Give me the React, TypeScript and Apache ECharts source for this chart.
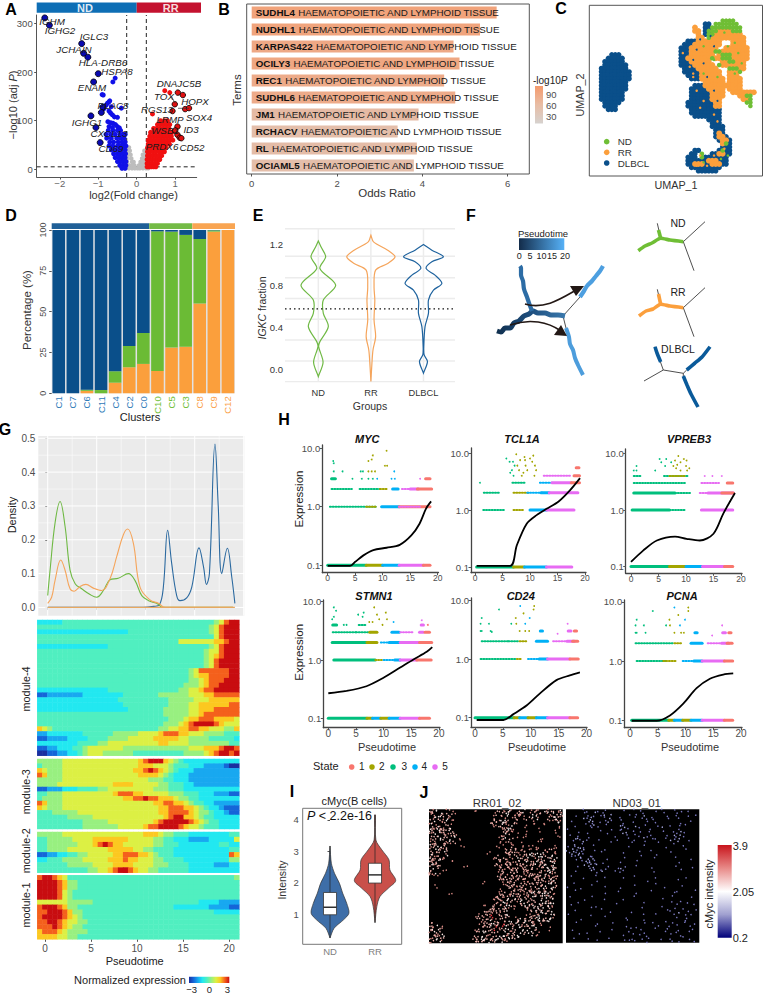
import React, { useEffect, useRef } from "react";
import * as echarts from "echarts";

const FF = "'Liberation Sans', Arial, sans-serif";
const GREY = "#4d4d4d";
const BLUE = "#0a4f8a";
const GREEN = "#6bbb35";
const ORANGE = "#fb9f3c";

// ---- A volcano
const volcGray: [number, number[]][] = [
  [45, [-0.26, -0.2]], [38, [-0.25, -0.18, 0.2, 0.24]], [30, [-0.24, -0.16, 0.16, 0.22]],
  [22, [-0.24, -0.14, 0.14, 0.2, 0.24]], [15, [-0.25, -0.12, -0.08, 0.1, 0.16, 0.22]],
  [8, [-0.3, -0.2, -0.12, -0.06, 0.06, 0.12, 0.2, 0.26]],
  [2, [-0.4, -0.3, -0.2, -0.12, -0.05, 0.02, 0.08, 0.16, 0.24, 0.3]],
];
const volcBlueTop: number[][] = [
  [-0.56, 188], [-0.62, 180], [-0.9, 154], [-0.87, 153], [-0.7, 141], [-0.72, 139], [-0.76, 136], [-0.8, 132],
  [-0.66, 129], [-0.4, 126], [-0.85, 125], [-0.72, 120], [-0.68, 116], [-0.63, 112], [-0.58, 108], [-0.5, 107],
  [-0.75, 98], [-0.68, 96], [-0.62, 95], [-0.55, 92], [-0.5, 88], [-0.45, 85], [-0.72, 88], [-0.63, 86],
];
const volcBlueRows: [number, number[]][] = [
  [80, [-0.74, -0.62, -0.5, -0.42]], [72, [-0.8, -0.68, -0.56, -0.44, -0.36, -0.3]],
  [64, [-0.78, -0.66, -0.52, -0.42, -0.33]], [56, [-0.7, -0.6, -0.48, -0.38, -0.3]],
  [48, [-0.72, -0.62, -0.5, -0.42, -0.34, -0.28]], [40, [-0.66, -0.56, -0.46, -0.38, -0.3]],
  [32, [-0.6, -0.5, -0.44, -0.36, -0.29]], [24, [-0.56, -0.46, -0.38, -0.3]],
  [16, [-0.5, -0.42, -0.34, -0.28]], [8, [-0.44, -0.36, -0.28]], [2, [-0.38, -0.3]],
];
const volcRedRows: [number, number[]][] = [
  [100, [0.62, 0.72, 0.8]], [92, [0.54, 0.62, 0.7, 0.78, 0.86]], [84, [0.44, 0.52, 0.6, 0.68, 0.76, 0.84]],
  [76, [0.36, 0.44, 0.52, 0.6, 0.68, 0.76, 0.84, 0.92]], [68, [0.34, 0.42, 0.5, 0.58, 0.66, 0.74, 0.82, 0.9]],
  [60, [0.3, 0.38, 0.46, 0.54, 0.62, 0.7, 0.78, 0.86, 0.94]], [52, [0.3, 0.38, 0.46, 0.54, 0.62, 0.7, 0.78, 0.85]],
  [44, [0.28, 0.36, 0.44, 0.52, 0.6, 0.68, 0.76]], [36, [0.28, 0.35, 0.43, 0.5, 0.58, 0.65, 0.72]],
  [28, [0.28, 0.35, 0.42, 0.5, 0.58, 0.65]], [20, [0.27, 0.33, 0.4, 0.47, 0.54, 0.6]],
  [12, [0.27, 0.33, 0.4, 0.47, 0.54]], [5, [0.27, 0.32, 0.38, 0.44, 0.5]],
];
const volcRedTop = [[0.73, 162], [0.86, 158], [0.41, 114]];
const volcBlueLabelled = [
  [-2.39, 312], [-2.27, 297], [-1.43, 259], [-1.38, 239], [-1.27, 231], [-1.0, 197], [-1.12, 180],
  [-0.88, 128], [-0.92, 117], [-1.19, 110], [-1.06, 86], [-0.95, 55],
];
const volcRedLabelled = [
  [1.07, 158], [1.2, 153], [0.99, 134], [0.93, 120], [1.26, 124], [1.36, 126],
  [1.06, 88], [1.0, 80], [1.06, 71], [1.12, 65], [1.16, 64],
];
const volcLabels: [string, number, number][] = [
  ["IGHM", 52, 21], ["IGHG2", 60, 30.7], ["IGLC3", 94, 36], ["JCHAIN", 74, 49], ["HLA-DRB6", 103, 62],
  ["HSPA8", 117, 71], ["ENAM", 92, 87], ["PLAC8", 113, 105], ["IGHG1", 87, 122], ["CXCL13", 109, 133],
  ["CD69", 111, 148], ["DNAJC5B", 179, 83], ["TOX", 164, 96], ["HOPX", 195, 101], ["RGS13", 157, 109],
  ["SOX4", 199, 117], ["LRMP", 170, 119], ["WSB1", 165, 130], ["ID3", 191, 129], ["PRDX6", 162, 146], ["CD52", 192, 147],
];

// ---- B enrichment
const termNames = ["SUDHL4", "NUDHL1", "KARPAS422", "OCILY3", "REC1", "SUDHL6", "JM1", "RCHACV", "RL", "OCIAML5"];
const oddsRatio = [5.74, 5.35, 4.73, 4.87, 4.51, 4.77, 3.91, 3.42, 3.87, 3.8];
const log10P = [88, 86, 80, 82, 76, 76, 55, 50, 52, 50];
const termSuffix = "HAEMATOPOIETIC AND LYMPHOID TISSUE";

// ---- C UMAP: [row, firstCol, lastCol]
const umapD: number[][] = [
  [14, 6, 8], [15, 5, 9], [16, 4, 9], [17, 4, 10], [18, 3, 10], [19, 3, 11], [20, 3, 11], [21, 3, 11], [22, 3, 10], [23, 3, 10],
  [24, 3, 10], [25, 3, 9], [26, 3, 9], [27, 3, 9], [28, 4, 8], [29, 4, 7], [30, 5, 7],
  [5, 33, 34], [6, 33, 34], [7, 33, 34], [8, 33, 33], [10, 28, 30], [11, 27, 30], [12, 26, 29], [13, 26, 29], [14, 26, 28], [15, 26, 28],
  [16, 26, 29], [17, 26, 29], [18, 27, 30], [19, 27, 31], [20, 28, 31], [21, 29, 31], [23, 30, 33], [24, 29, 34], [25, 29, 34], [26, 29, 35],
  [27, 29, 35], [28, 28, 36], [29, 28, 36], [30, 29, 37], [31, 29, 37], [32, 30, 37], [33, 34, 37], [34, 35, 37], [35, 35, 38], [36, 36, 38],
  [37, 36, 38], [38, 36, 39], [39, 37, 40], [40, 38, 40], [41, 38, 40], [42, 30, 31], [42, 37, 40], [43, 29, 30], [43, 35, 40], [44, 28, 30],
  [44, 33, 39], [45, 28, 39], [46, 28, 39], [47, 29, 37], [48, 31, 36],
];
const umapR: number[][] = [
  [6, 30, 30], [7, 30, 31], [7, 37, 40], [8, 31, 31], [8, 36, 43], [9, 31, 32], [9, 35, 44], [10, 31, 37], [10, 41, 44], [11, 30, 37], [11, 41, 44],
  [12, 29, 36], [12, 39, 45], [13, 29, 35], [13, 38, 45], [14, 29, 35], [14, 37, 45], [15, 28, 34], [15, 36, 37], [15, 41, 45], [16, 29, 34], [16, 38, 44],
  [17, 30, 35], [17, 38, 44], [18, 31, 36], [18, 41, 44], [19, 32, 37], [19, 40, 42], [20, 32, 37], [20, 40, 42], [21, 32, 38], [21, 40, 43], [22, 33, 38],
  [22, 40, 43], [23, 33, 38], [23, 39, 43], [24, 34, 38], [24, 40, 43], [25, 35, 38], [25, 41, 47], [26, 35, 38], [26, 43, 45], [27, 35, 37], [27, 44, 45],
  [28, 36, 37], [29, 36, 37], [37, 37, 37], [38, 37, 38], [39, 38, 39], [40, 38, 38], [43, 37, 38], [45, 34, 36], [46, 30, 32], [46, 35, 37],
];
const umapN: number[][] = [
  [4, 38, 41], [5, 36, 42], [6, 35, 43], [7, 34, 36], [7, 41, 43], [8, 34, 35], [9, 34, 34], [13, 36, 37], [14, 38, 40], [15, 35, 35], [15, 38, 40],
  [16, 40, 41], [17, 37, 37], [18, 40, 42], [19, 43, 43], [26, 45, 46], [27, 46, 46], [28, 45, 46], [29, 46, 46], [40, 39, 39], [42, 38, 38], [43, 32, 32], [44, 32, 32],
];
const umapOrangeDots = [[27, 14], [29, 18], [30, 20], [31, 25], [33, 28], [32, 30], [36, 32], [37, 34], [32, 44], [31, 47], [34, 47], [36, 44], [39, 42], [30, 21]];
const umapDarkDots = [[31, 13], [33, 17], [36, 12], [34, 21], [36, 25], [35, 9], [37, 28], [30, 16], [32, 10]];
const umapGreenDots = [[33, 12], [40, 12], [42, 11], [43, 14], [37, 21], [39, 8], [44, 17], [42, 20], [33, 20], [36, 16], [40, 44], [38, 45], [33, 46]];

// ---- D composition
const clusters = ["C1", "C7", "C6", "C11", "C4", "C2", "C0", "C10", "C5", "C3", "C8", "C9", "C12"];
const clusterGroup = ["b", "b", "b", "b", "b", "b", "b", "g", "g", "g", "o", "o", "o"];
const pctOrange = [0, 0, 1.5, 0, 6.5, 16, 18, 13.7, 28, 28.5, 55, 99, 100];
const pctGreen = [0, 0, 0.7, 2, 7, 13, 19, 85.5, 71, 68.5, 39.5, 0.8, 0];
const pctBlue = [100, 100, 97.8, 98, 86.5, 71, 63, 0.8, 1, 3, 5.5, 0.2, 0];

// ---- E violins: [value, half-width]
const igkcND = [[1.233, 0], [1.176, 0.05], [1.08, 0.14], [0.968, 0.03], [0.808, 0.33], [0.665, 0.095], [0.537, 0.095], [0.409, 0.19], [0.265, 0.03], [0.217, 0.006], [0.067, 0.09], [-0.07, 0]];
const igkcRR = [[1.288, 0], [1.224, 0.05], [1.144, 0.32], [1.08, 0.46], [1.016, 0.32], [0.952, 0.09], [0.792, 0.06], [0.665, 0.075], [0.473, 0.06], [0.313, 0.09], [0.185, 0.04], [0.058, 0.02], [-0.118, 0]];
const igkcDL = [[1.198, 0], [1.144, 0.16], [1.08, 0.38], [1.032, 0.16], [0.968, 0.05], [0.904, 0.22], [0.824, 0.35], [0.76, 0.19], [0.665, 0.095], [0.537, 0.095], [0.409, 0.03], [0.217, 0.006], [0.137, 0.013], [0.073, 0.076], [-0.038, 0]];
const igkcGroups = ["ND", "RR", "DLBCL"];
const igkcGrid = [1.35, 1.086, 0.88, 0.68, 0.48, 0.28, 0.08, -0.12];
const igkcThreshold = 0.58;

// ---- F trajectories
const trajRoot = [[497, 331], [501, 332], [505, 328], [510, 328], [514, 323], [519, 321], [524, 316], [529, 314], [533, 311], [538, 313], [545, 313], [551, 315], [558, 315], [565, 316]];
const trajUp = [[532, 311], [529, 303], [527, 297], [524, 289], [523, 281], [521, 275], [521, 268], [520, 266]];
const trajRight = [[580, 297], [584, 291], [587, 286], [592, 281], [596, 276], [600, 271], [603, 266]];
const trajDown = [[566, 328], [569, 337], [570, 344], [573, 350], [575, 358], [578, 365], [583, 375]];
const trajThin = [[[563, 316], [580, 297]], [[563, 316], [566, 328]]];
const ndThin = [[[657.3, 223.3], [660.7, 238.3], [683.3, 241.7], [705, 221.7]], [[683.3, 241.7], [694, 270.7]]];
const ndThick = [[[638.3, 250.7], [645, 246], [652, 243], [660.7, 238.3], [670, 240], [683.3, 241.7]], [[660.7, 238.3], [658.5, 230]]];
const rrThin = [[[657.3, 289.3], [660.7, 304.3], [683.3, 307.7], [705, 287.7]], [[683.3, 307.7], [694, 336.7]]];
const rrThick = [[[639, 316], [646, 311], [653, 309], [660.7, 304.3], [670, 306], [683.3, 307.7]], [[660.7, 304.3], [658.5, 294]]];
const dlThin = [[[644, 381], [663.3, 370], [683.3, 373.3], [686.7, 370]], [[655, 346.7], [663.3, 370]], [[683.3, 373.3], [683.3, 376]]];
const dlThick = [[[655, 346.7], [657, 353], [660.7, 362]], [[686.7, 370], [695, 363], [702, 357], [710, 346.7]], [[683.3, 376], [687, 385], [691, 394], [698, 407]]];

// ---- G density
const densGreen = [[0, 0.035], [0.24, 0.11], [0.75, 0.25], [1.26, 0.313], [1.77, 0.24], [2.28, 0.11], [2.8, 0.07], [3.47, 0.055], [4.32, 0.038], [5, 0.03], [5.68, 0.05], [6.36, 0.082], [7.2, 0.086], [8.23, 0.1], [8.9, 0.08], [9.6, 0.035], [10.3, 0.02], [11.1, 0.012], [11.8, 0], [18.9, 0]];
const densOrange = [[0, 0.012], [0.4, 0.03], [0.75, 0.08], [1.33, 0.14], [1.77, 0.11], [2.28, 0.055], [2.7, 0.048], [3.3, 0.062], [3.9, 0.068], [4.66, 0.057], [5.5, 0.05], [6.36, 0.085], [7.04, 0.15], [7.72, 0.215], [8.16, 0.232], [8.74, 0.19], [9.42, 0.06], [10.44, 0.022], [11.3, 0.012], [12, 0], [18.9, 0]];
const densBlue = [[0, 0], [9.76, 0], [10.8, 0.003], [11.4, 0.008], [11.8, 0.06], [12.24, 0.228], [12.65, 0.13], [13.16, 0.035], [13.5, 0.02], [14.18, 0.028], [14.7, 0.06], [15.44, 0.176], [15.9, 0.12], [16.2, 0.068], [16.5, 0.1], [17.07, 0.483], [17.4, 0.3], [17.76, 0.1], [18.33, 0.175], [18.78, 0.09], [19.1, 0.012]];
const densGridY = [0.05, 0.1, 0.15, 0.2, 0.25, 0.3, 0.35, 0.4, 0.45, 0.5];
const densGridX = [0, 2.5, 5, 7.5, 10, 12.5, 15, 17.5, 20];

// ---- G heat map: one digit per cell, 0 = -3 ... 9 = +3
const mod4 = [
  "3333344444444444444444444444444444456899", "4444444444444444444444444444444444568999", "3333333333333333334444444444444444568999",
  "4444444444444444444444444444444444468999", "4444444444444444444444444444666666677899", "3333333333333344444444444444444444568999",
  "4444444444444444444444444444444445668999", "4444444444444444444444444444444445678999", "4444444444444444444444444444444445689999",
  "4444444444444444444444444444444445689999", "4444444444444444444444444444445688888899", "4444444444444444444444444444445677888899",
  "4444444444444444444444444444445567888999", "4444444444444444444444444444455567889999", "3333333333333344444444444444556678899999",
  "1122222223333333344444445555556667788888", "3333333333333333444444444455555666777777", "3333333333333333344444444455556677777788",
  "3333333333333333334444444555556677788888", "4444444444444444444444444555556678888888", "4444444444444444444444444455567788877776",
  "4444444444444444444444444555678999987666", "7654444444444444444444445566778877666557", "2233333334444445555566667888776665555444",
  "1122223333444455556666677777665555444443", "3333333344445566666666667766665555555544", "1122333445666666655555555555556667778998",
  "0011223345666555555444444444455556789989",
];
const mod3 = [
  "5555566666666666666678999765433333333333", "4555566666666666666677766654443332222100", "7655566666666666666778987654333222222222",
  "8755566666666666666677776543332222222222", "5555566666666666666666555443332222222222", "5555666666666667777666665544433222222222",
  "1122233344445566666666655544433333333333", "4455566666666667888776666655544433322211", "4555566666666666677889887776554433333333",
  "8755566666666666666666677887765443322222", "7655566666666666666666667788877654332111", "4445555566666666666666667788887655433211",
  "4444445555566666666666666789977654433333", "4444444445555566666666678999998765443333", "4444444445555555666667889999876654443333",
];
const mod2 = [
  "5555566666666666666667776554443333333344", "4455555666677777776666655443332222333336", "4455555566678987766666655444333333334433",
  "4455556666666677777665544443333333333344", "1122334455666667788877654443333333333387", "3344455556666677787766655444433333333355",
  "4444445555566667777666655544443333322233", "4444444444556678998766554444443333333333",
];
const mod1 = [
  "8998764444444444444444444444444444444445", "9999875544444444444444444444444444444444", "9999875544444444444444444444444444444444",
  "9999865444444444444444444444444444444444", "9999865444444444444444444444444444444444", "6666665555544444444444444444444433332222",
  "8999875544444444444444444443333333222211", "8899987554444444444444444444444444433333", "8999987654444444444444444444444444444444",
  "8899876655444444444444444444444444444444", "8889876554444444444444444444444444444444", "7888765555444444444444444444444444444444",
  "7777665544444444444444444444444444444444",
];
const jet = ["#1a2fa0", "#1565d8", "#18a8f0", "#22e8f0", "#50efc0", "#98f080", "#dcf044", "#fcc820", "#f4601c", "#c80c10"];
const pseudoTicks = [0, 5, 10, 15, 20];

// ---- H pseudotime genes; bands: [expression, from, to, state, dense]
const stateColors = ["", "#f8766d", "#a3a500", "#00bf7d", "#00b0f6", "#e76bf3"];
const mycBands = [[0.1, 0, 7, 3, 1], [0.1, 7, 10, 2, 1], [0.1, 10, 13, 4, 1], [0.1, 13, 17.4, 5, 1], [0.1, 17.4, 18.6, 1, 1], [1, 0.4, 9, 3, 0], [1, 7, 9, 2, 0], [1, 9.8, 13, 4, 1], [1, 13, 18.6, 1, 1], [1, 13, 17, 5, 0], [2, 0.7, 4.4, 3, 0], [2, 5.8, 9.5, 3, 0], [2, 9.5, 10.8, 2, 0], [2, 11.8, 12.8, 4, 1], [2, 13.5, 15, 5, 0], [2, 15, 16.5, 5, 1], [2, 16.3, 18.9, 1, 1], [3, 0.7, 1.4, 3, 1], [3, 17.8, 18.6, 1, 1]];
const mycDots = [[1, 6, 3], [1.1, 5.5, 3], [1.1, 4, 3], [2.7, 4, 3], [6, 4, 3], [6.4, 4, 3], [7.4, 4, 2], [8, 4, 2], [8.6, 4, 2], [7.4, 6, 2], [8, 6.4, 2], [8.2, 7.5, 2], [10.7, 9, 2], [10.4, 5, 2], [10.8, 5, 2], [4.5, 3, 3], [6.2, 3, 3], [7.4, 3, 3], [8.2, 3, 3], [9, 3, 4], [11.6, 3, 4], [12.2, 3, 4], [12.1, 4, 4], [16.8, 3, 5]];
const tclBands = [[0.1, 0.3, 7, 3, 1], [0.1, 7, 9, 2, 1], [0.1, 9, 13, 4, 1], [0.1, 13, 17.6, 5, 1], [1, 1.5, 5.5, 3, 0], [1, 7, 9, 2, 0], [1, 10, 13, 4, 1], [1, 13, 18, 5, 1], [2, 1.6, 4.5, 3, 0], [2, 7, 10, 2, 0], [2, 9.5, 12.5, 4, 0], [2, 12, 13.5, 4, 1], [2, 13.5, 18.7, 5, 1], [3, 6.8, 9, 3, 0], [3, 11.8, 14, 4, 0], [3, 14, 17.5, 5, 1], [3, 17.5, 19, 1, 1], [4, 12.5, 17.5, 5, 0], [4, 18, 19, 1, 1], [5.5, 18.4, 18.9, 1, 1]];
const tclDots = [[0.9, 3, 3], [5.7, 8, 3], [6.3, 7, 3], [6.9, 7, 3], [7.5, 9.5, 2], [7.7, 6, 2], [8, 5, 2], [8.5, 4, 2], [9, 8.5, 2], [9.2, 6, 2], [9.5, 5, 2], [10.4, 7, 2], [10.6, 9, 2], [10.9, 6, 2], [11.1, 5, 2], [10.8, 4, 2], [6.7, 5, 3], [7, 4, 3], [8.2, 7.5, 2], [9.1, 7.5, 2], [10, 8, 2], [7.2, 6, 3], [6.4, 4.5, 3], [8.8, 4.5, 2]];
const vprBands = [[0.1, 0, 7, 3, 1], [0.1, 7, 10, 2, 1], [0.1, 10, 13, 4, 1], [0.1, 13, 17, 5, 1], [0.1, 17, 18.5, 1, 1], [1, 0.2, 7, 3, 1], [1, 7, 10, 3, 0], [1, 12.8, 18.5, 5, 1], [2, 0.5, 8, 3, 1], [2, 8, 11, 3, 0], [2, 12.5, 14, 5, 0], [2, 14, 18.6, 5, 1], [2, 16.5, 18.6, 1, 1], [3, 0.5, 3, 3, 0], [3, 3, 10, 3, 0], [3, 12.8, 16, 5, 0], [3, 17.5, 18.5, 1, 1], [4, 0.5, 2, 3, 0], [4, 6, 10.5, 3, 0], [4, 7, 10, 2, 0]];
const vprDots = [[0.5, 5, 3], [1, 6, 3], [1, 5, 3], [4.4, 5, 3], [5.5, 7, 3], [5.2, 8, 3], [6.2, 6, 3], [6.4, 8, 3], [7.3, 7, 3], [7.7, 6, 2], [8, 7.5, 2], [8.2, 5.5, 2], [8.6, 9, 2], [9, 7, 2], [9, 5, 2], [9.6, 8, 2], [10, 6, 2], [10.2, 5, 2], [10.6, 5.5, 2], [10.1, 7.5, 2], [13.4, 4, 5], [14.8, 4, 5], [16.5, 4, 5], [8.4, 6.3, 2]];
const stmBands = [[0.1, 0, 7, 3, 1], [0.1, 7, 8, 2, 1], [0.1, 8, 9.5, 4, 1], [0.1, 9.5, 11, 2, 1], [0.1, 11, 13, 4, 1], [0.1, 13, 16.5, 5, 1], [0.1, 16.5, 18.3, 1, 1], [1, 1, 8.5, 3, 1], [1, 8.5, 10, 2, 0], [1, 10, 12, 4, 0], [1, 12, 13, 4, 1], [1, 13, 16, 5, 1], [1, 16, 18.6, 1, 1], [2, 0.7, 7, 3, 1], [2, 7, 8.8, 2, 1], [2, 9.5, 11, 4, 0], [2, 11, 13, 4, 1], [2, 13, 16.5, 5, 1], [2, 16.5, 18.7, 1, 1], [3, 0.8, 5, 3, 0], [3, 5, 8, 3, 0], [3, 7.5, 8.8, 2, 1], [3, 11.5, 12.8, 4, 1], [3, 13, 15.5, 5, 0], [3, 16.5, 17.2, 5, 1], [3, 17.5, 18.3, 1, 1], [4, 0.8, 1.5, 3, 1], [4, 5.5, 7, 3, 0], [4, 16.8, 17.2, 5, 1]];
const stmDots = [[0.7, 5, 3], [1, 5.5, 3], [1, 8, 3], [1.4, 7, 3], [2.8, 4, 3], [3.3, 4, 3], [5.4, 6, 3], [6.2, 5.5, 3], [6.4, 6.5, 3], [7.4, 4.5, 2], [8, 4.5, 2], [8.3, 8, 2], [8.8, 6, 2], [9.2, 5, 2], [9.8, 4, 2], [10.4, 6.5, 2], [10.6, 5, 2], [11.8, 4.5, 4], [16.9, 4.8, 5], [18, 4, 1]];
const cd24Bands = [[0.1, 0, 7, 3, 1], [0.1, 7, 8, 2, 1], [0.1, 8, 9.5, 4, 1], [0.1, 9.5, 11, 2, 1], [0.1, 11, 13, 4, 1], [0.1, 13, 17, 5, 1], [0.1, 17, 18.4, 1, 1], [1, 1, 7.5, 3, 0], [1, 7.5, 8.5, 2, 0], [1, 9.5, 11.5, 4, 0], [1, 11.5, 13, 4, 1], [1, 13, 17, 5, 1], [1, 17, 18.5, 1, 1], [2, 1.2, 6, 3, 0], [2, 6, 8, 3, 0], [2, 8, 9.5, 2, 0], [2, 11, 13, 4, 1], [2, 14, 16.5, 5, 0], [2, 16.5, 17.8, 5, 1], [2, 17.5, 18.4, 1, 1], [3, 11.7, 12.1, 4, 1], [3, 16.7, 17.2, 5, 1], [3, 17.8, 18.2, 1, 1]];
const cd24Dots = [[1.2, 5, 3], [1, 4, 3], [1, 3, 3], [1.2, 3, 3], [2.5, 4, 3], [2.8, 3, 3], [3, 2.9, 3], [4.3, 7, 3], [7.3, 5, 2], [7.4, 4, 2], [6.5, 4, 3], [8, 3, 2], [8.7, 6, 2], [9, 3, 2], [9.8, 5, 4], [9.7, 3, 2], [10.6, 8, 2], [10.5, 7, 2], [8.1, 8, 4], [9, 4, 4], [16.6, 4, 5], [14.8, 2.7, 5]];
const pcnaBands = [[0.1, 0.3, 7, 3, 1], [0.1, 7, 8, 2, 1], [0.1, 8, 9.5, 4, 1], [0.1, 9.5, 11, 2, 1], [0.1, 11, 13, 4, 1], [0.1, 13, 17, 5, 1], [0.1, 17, 18.5, 1, 1], [1, 1.2, 6.5, 3, 0], [1, 6, 8.5, 2, 0], [1, 9.5, 11.5, 4, 0], [1, 11.5, 13, 4, 1], [1, 13, 17, 5, 1], [1, 17, 18.5, 1, 1], [2, 1, 6, 3, 0], [2, 6, 8, 3, 0], [2, 8, 9.5, 2, 0], [2, 11, 13, 4, 1], [2, 14, 16.5, 5, 0], [2, 16.5, 17.8, 5, 1], [2, 17.5, 18.4, 1, 1], [3, 11.7, 12.1, 4, 1], [3, 16.7, 17.2, 5, 1], [3, 17.8, 18.2, 1, 1]];
const pcnaDots = [[1.2, 5, 3], [1, 4, 3], [1, 3, 3], [1.2, 3, 3], [2.5, 4, 3], [2.8, 3, 3], [4.1, 7, 3], [7.1, 5, 2], [7.2, 4, 2], [6.5, 4, 3], [8, 3, 2], [8.7, 6, 2], [9.2, 3, 2], [9.9, 5, 4], [9.7, 3, 2], [10.5, 8, 2], [10.5, 7, 2], [8, 8, 4], [9, 4, 4], [16.6, 4, 5], [14.8, 2.7, 5]];
// log10(expression) along pseudotime
const mycCurve = [[0, -1.01], [4.06, -1.01], [5, -0.94], [6.5, -0.83], [8.3, -0.74], [10.7, -0.7], [13.1, -0.65], [15.2, -0.49], [16.7, -0.29], [17.9, -0.03], [18.8, 0.09]];
const tclCurve = [[0.3, -0.98], [6.4, -0.98], [7.6, -0.62], [9.4, -0.24], [11.2, -0.09], [13, 0.02], [15.2, 0.15], [17.3, 0.35], [19.1, 0.56]];
const vprCurve = [[0, -0.92], [2.2, -0.72], [4.7, -0.54], [8, -0.47], [10.1, -0.51], [12.5, -0.54], [15, -0.42], [16.8, -0.06], [18.9, 0.3]];
const stmCurve = [[0, -0.57], [3.3, -0.53], [6.9, -0.45], [9.9, -0.31], [13, -0.13], [15.4, 0.01], [17.8, 0.14], [18.8, 0.22]];
const cd24Curve = [[0.3, -1.04], [5.1, -1.04], [6.9, -0.94], [9.3, -0.79], [11.6, -0.59], [14.6, -0.36], [17, -0.28], [18.8, -0.23]];
const pcnaCurve = [[0.3, -1.01], [4.8, -1.01], [7.2, -0.92], [9.6, -0.72], [12, -0.46], [14.4, -0.3], [16.8, -0.23], [18.6, -0.21]];

// ---- I cMyc violins
const cmycND = [[3.17, 0], [2.62, 0.03], [2.3, 0.1], [1.98, 0.21], [1.67, 0.28], [1.35, 0.37], [1.03, 0.42], [0.82, 0.3], [0.55, 0.09], [0.24, 0]];
const cmycRR = [[4.16, 0.01], [3.36, 0.02], [3.05, 0.15], [2.73, 0.31], [2.41, 0.33], [2.07, 0.46], [1.83, 0.3], [1.56, 0.11], [1.24, 0.04], [0.73, 0]];
const cmycBoxND = [0.98, 1.22, 1.69];
const cmycBoxRR = [1.99, 2.25, 2.62];

// ---- J tissue maps: one character per spot ('.' 'o' 'w' 'r' kinds of spot)
const tissueRR = [
  "o.w  .o .      .       o .w.  o w .o.  w.o .wo.", ".o  w  o              . o w  .o.  w .o  .w o. .", " .w o .               o . w .o. .o  w   o.w o",
  "o  o.w  .            .o w.o  .    .      .o.", ".w  .o               o. w . o      .  .    w", " o.w  o.             . o  .w    .          .",
  "w. o.o w                .o w.        .      ", ".o w.o  o                o. .   .         . ", "o w  o.o.               .w o  .             ",
  ".o.w o  w .             o.      .     .    .", " o  o.w o               .  o         .      ", "w.o  o.                  . .   .           ",
  ".o w.o     .           .   o.  .  . .     .", "o w .o                   .o  o .  . .  .o . ", " o.o w              .     o.o . o w w w.  .",
  "w. o .                 o  .o o .o w. w.o w  ", ".o w.                 .o o. .w o.w .o w w.w", "o.o    .               o. .o o. o o w.o  w.",
  " w.o                  o .o.o  o.o .o o.w w", "o o         .          .o o. o .o o  .o w.o", ".w   .                  o. o.o  o.o .o .w.w",
  "o. .                   .o .o.o o. o o. .w o", "                       o.o  o.o .o o.o w.o.", "                        .o o. o.o  o.o. .w.",
  "                  .       o.o  o .o o o w.o", "  .                      .o o. o.o  .o.w w.", "                        .  o. o.o .o w o w",
  "                        .o .o o. o.w o.w o", "       .                o  .o.o .o .o w.w.", "                      .o. o w o o. w o w.o",
  "                     . o. w o .w o.o w w w", "                      o. w.o .o w .o w o.w", "                  .  o. o.w .   .w w .o w.",
  "                    .o o w.      .o w.w o", "                  o o. o.o          .w o w", "                .o o.r  o w     . .o.w o w.",
  "                o .o r. o.o  .w o o.w o w ", "                 .o w. o o w .o w o.w o w   ", ".o                .o w.o r o.w .o w. .   ",
  "o.w .             o o r.r w o w. o w    .  ", ".w o           .o w o.r o w. o w w o.      ", "o o.            o w. o o w. o w o w         ",
  " .o w          o w o.o w w. o w     .      ", "o.w o          .o w.o w o.w o              ", ".o w.           o o w.o w.                 ",
];
const tissueND = [
  "     . .  .  .     .  .  .    . .   .  . .    ", "      .  o  .  o     . .  .      .   .        ", "   .   .o. .o.    .    .  o  .    .  .   . .  ",
  "      o.o    .o.  .      . . .    .   .       ", " .    .o.o .  o    .  .    .  .       .   .   ", "   .    .o.  .    o.   o  .    .   .  . .     ",
  ".       .      .  .o.   .   .   o     .       ", "    .      .      . o .  .  .   .   . o.     ", " .     .      .    o.  .    .     . o.o       ",
  "   o.  .        .    .  . o. .   .   .o.      ", "  .o.o .   .     .     .  .   .    o.o   .    ", "     .         .      .        .    .         ",
  ". o.o    .           .    .      .     .      ", "  o.o.o  .   .              .           .     ", "o.o.o.      .      .    .          .          ",
  " .o.o.  .                .    .               ", "    o. o.o   .     .         .       .    .   ", "   . .o.o.        .     .                     ",
  "      o.o.o .                         .       ", "    .  o.o    .  .  .  .     .       .    .   ", "   .    o. .o.  . o.                  .       ",
  "          .       .          .                ", " .        .            .                     ", "     .       .     .          .      .  .    ",
  "  .       .                .                  ", "        .              .      .        .      ", ".    .       .    .              .            ",
  "   .             .          .        .     .   ", "             .         .            .        ", " .      .              .           .      .   ",
  "      .      .     .            .             ", "    .            .        .        .  .  .    ", " .        .                     .    .     .  ",
  "        .   .            .        . .  .   .   ", "   .           .      .            .  o  .    ", ".       .                 .   .     .   . .   ",
  "             .      .                .  .      ", "     .              .     .      .      .     ", "   .      .    .          .  .      .   .  .  ",
  "          .         .  .       .  .  .   .     ", "  .            .     .   .    .   .  .    .   ", "       .   .         .    .      .   .   .    ",
  "    .              .  . .  .       .  .       ", "  .    .      .       .  . .    .  .   . .    ", "          .        . . .   .       .  .    .  ",
];
const spotNudgeA = "370418592604731852936074185293704618259370416825";
const spotNudgeB = "815360297481630592748106359281740639251807364921";

const box = (x0: number, y0: number, x1: number, y1: number, extra: any = {}) => ({
  left: x0, top: y0, width: x1 - x0, height: y1 - y0, containLabel: false, ...extra,
});
const hid = (min: number, max: number, extra: any = {}) => ({
  type: "value", min, max, show: false, splitLine: { show: false }, ...extra,
});
const tickAxis = (min: number, max: number, vals: number[], size: number, extra: any = {}) => ({
  type: "value", min, max, splitLine: { show: false },
  axisLine: { show: true, onZero: false, lineStyle: { color: "#555", width: 1 } },
  axisTick: { show: true, customValues: vals, length: 2.5, lineStyle: { color: "#555" } },
  axisLabel: { show: true, customValues: vals, fontSize: size, color: GREY, fontFamily: FF, margin: 4 },
  ...extra,
});

function buildOption() {
  const grids: any[] = [], xs: any[] = [], ys: any[] = [], series: any[] = [], g: any[] = [];
  const add = (grid: any, x: any, y: any) => {
    grids.push(grid);
    x.gridIndex = grids.length - 1; y.gridIndex = grids.length - 1;
    xs.push(x); ys.push(y);
    return grids.length - 1;
  };
  const T = (text: string, x: number, y: number, size: number, o: any = {}) =>
    g.push({
      type: "text", x, y, rotation: o.rot || 0, z: 50,
      style: {
        text, fontSize: size, fontFamily: FF, fill: o.color || "#111", align: o.align || "center", verticalAlign: "middle",
        fontWeight: o.weight || "normal", fontStyle: o.fstyle || "normal", rich: o.rich,
      },
    });
  const R = (x: number, y: number, w: number, h: number, fill: any) =>
    g.push({ type: "rect", z: 40, shape: { x, y, width: w, height: h }, style: { fill } });
  const C = (x: number, y: number, r: number, fill: string) =>
    g.push({ type: "circle", z: 40, shape: { cx: x, cy: y, r }, style: { fill } });
  const grad = (x2: number, y2: number, colors: string[]) => ({
    type: "linear", x: 0, y: 0, x2, y2, global: false,
    colorStops: colors.map((color, i) => ({ offset: i / (colors.length - 1), color })),
  });
  const line = (i: number, data: any[], color: any, width: number, o: any = {}) =>
    series.push({
      type: "line", xAxisIndex: i, yAxisIndex: i, data, symbol: "none", silent: true, smooth: o.smooth || false,
      z: o.z || 2, lineStyle: { color, width, type: o.type || "solid", cap: o.cap || "butt" },
    });
  const pts = (i: number, data: any[], color: string, size: number, o: any = {}) =>
    series.push({
      type: "scatter", xAxisIndex: i, yAxisIndex: i, data, symbolSize: size, silent: true, z: o.z || 3,
      itemStyle: { color, borderColor: o.border || undefined, borderWidth: o.border ? 0.8 : 0, opacity: 1 },
    });
  const violin = (i: number, pos: number, prof: number[][], fill: string, stroke: string, lw: number) =>
    series.push({
      type: "custom", xAxisIndex: i, yAxisIndex: i, data: [[pos, prof[0][0]]], silent: true, clip: false, z: 3,
      renderItem: (_p: any, api: any) => ({
        type: "polygon",
        shape: {
          smooth: 0.3,
          points: [
            ...prof.map(([v, w]) => api.coord([pos - w, v])),
            ...[...prof].reverse().map(([v, w]) => api.coord([pos + w, v])),
          ],
        },
        style: { fill, stroke, lineWidth: lw },
      }),
    });
  const rows = (r: [number, number[]][]) => r.flatMap(([y, list]) => list.map((x) => [x, y]));

  // panel letters
  ([["A", 11, 9], ["B", 224, 9], ["C", 561, 8], ["D", 11, 215], ["E", 258, 215], ["F", 471, 215], ["G", 5, 429], ["H", 284, 419], ["I", 292, 791], ["J", 424, 792]] as any[])
    .forEach(([s, x, y]) => T(s, x, y, 16, { weight: "bold", color: "#000" }));

  // ---------- A
  const a = add(box(36.7, 15, 196.7, 177),
    tickAxis(-2.6, 1.56, [-2, -1, 0, 1], 9.5, { axisLabel: { show: true, customValues: [-2, -1, 0, 1], fontSize: 9.5, color: "#666", fontFamily: FF, margin: 1, formatter: (v: number) => (v < 0 ? "\u2212" + -v : "" + v) } }),
    tickAxis(-16, 318, [0, 100, 200, 300], 9.5));
  pts(a, rows(volcGray), "#bdbdbd", 4.5);
  pts(a, [...volcBlueTop, ...rows(volcBlueRows)], "#1010e8", 5);
  pts(a, [...rows(volcRedRows), ...volcRedTop], "#f01010", 5);
  pts(a, volcBlueLabelled, "#0a0ab0", 6, { border: "#000", z: 4 });
  pts(a, volcRedLabelled, "#e01010", 5.5, { border: "#000", z: 4 });
  line(a, [[-0.26, -16], [-0.26, 318]], "#222", 1, { type: [4, 3] });
  line(a, [[0.25, -16], [0.25, 318]], "#222", 1, { type: [4, 3] });
  line(a, [[-2.6, 5], [1.56, 5]], "#222", 1, { type: [4, 3] });
  g.push({ type: "line", z: 30, shape: { x1: 171.7, y1: 96.7, x2: 175, y2: 103.3 }, style: { stroke: "#333", lineWidth: 0.7 } });
  g.push({ type: "line", z: 30, shape: { x1: 178, y1: 108.3, x2: 189, y2: 108.3 }, style: { stroke: "#333", lineWidth: 0.7 } });
  R(36.7, 2.5, 100, 10.2, "#0e6eb5");
  R(136.7, 2.5, 64.3, 10.2, "#c4122f");
  T("ND", 85, 8, 11, { weight: "bold", color: "#dfeaf5" });
  T("RR", 170.7, 8, 11, { weight: "bold", color: "#f6dcdc" });
  volcLabels.forEach(([s, x, y]) => T(s, x, y, 9.8, { fstyle: "italic", color: "#1a1a1a" }));
  T("log2(Fold change)", 133.5, 195, 11, { color: "#333" });
  T("{a|\u2212log10 (adj }{b|P}{a|)}", 13, 105, 11, {
    rot: Math.PI / 2, color: "#333",
    rich: { a: { fontSize: 11, fontFamily: FF, fill: "#333", color: "#333" }, b: { fontSize: 11, fontFamily: FF, fontStyle: "italic", color: "#333" } },
  });

  // ---------- B
  const b = add(box(246.7, 4, 529.3, 174, { show: true, borderColor: "#555", borderWidth: 1, backgroundColor: "#fff" }),
    tickAxis(-0.117, 6.505, [0, 2, 4, 6], 9.5, { axisLine: { show: false } }),
    { type: "category", inverse: true, data: termNames, axisLine: { show: false }, axisTick: { show: false }, axisLabel: { show: false } });
  const bIdx = series.length;
  series.push({
    type: "bar", xAxisIndex: b, yAxisIndex: b, barWidth: 12, silent: true,
    encode: { x: 0, y: 1 },
    data: termNames.map((n, i) => [oddsRatio[i], n, log10P[i]]),
    label: {
      show: true, position: "insideLeft", distance: 4,
      formatter: (p: any) => `{b|${p.value[1]}} {n|${termSuffix}}`,
      rich: {
        b: { fontFamily: FF, fontSize: 9.8, fontWeight: "bold", color: "#111" },
        n: { fontFamily: FF, fontSize: 9.8, color: "#1a1a1a" },
      },
    },
  });
  T("Odds Ratio", 387, 193, 11.5, { color: "#333" });
  T("Terms", 236.7, 90, 11.5, { rot: Math.PI / 2, color: "#333" });
  T("-log10{i|P}", 533, 80, 10, { align: "left", color: "#222", rich: { i: { fontStyle: "italic", fontSize: 10, fontFamily: FF, color: "#222" } } });
  R(535, 86, 8, 37.5, grad(0, 1, ["#f59a6c", "#e8bda5", "#d6d2cf"]));
  [["90", 94], ["60", 105], ["30", 116]].forEach(([s, y]: any) => T(s, 546, y, 9.5, { align: "left", color: GREY }));

  // ---------- C
  const c = add(box(589.3, 5.3, 762.5, 176, { show: true, borderColor: "#555", borderWidth: 1 }), hid(0, 50), hid(0, 50, { inverse: true }));
  const expand = (runs: number[][]) => runs.flatMap(([r, a0, a1]) => {
    const out: number[][] = [];
    for (let k = a0; k <= a1; k++) out.push([k + 0.5, r + 0.5]);
    return out;
  });
  pts(c, expand(umapD), "#0a4f8a", 5.4);
  pts(c, expand(umapR), "#fb9f3c", 5.8);
  pts(c, expand(umapN), "#6fbe35", 4.6);
  pts(c, umapOrangeDots, "#fb9f3c", 2.5, { z: 4 });
  pts(c, umapDarkDots, "#0a4f8a", 2, { z: 4 });
  pts(c, umapGreenDots, "#6fbe35", 2.5, { z: 4 });
  [["ND", 141.7, "#6fbe35"], ["RR", 152.3, "#fb9f3c"], ["DLBCL", 163, "#0a4f8a"]].forEach(([s, y, col]: any) => {
    C(606.7, y, 2.8, col);
    T(s, 617.7, y, 9.8, { align: "left", color: "#333" });
  });
  T("UMAP_1", 676, 185, 10.8, { color: "#333" });
  T("UMAP_2", 580, 95, 10.8, { rot: Math.PI / 2, color: "#333" });

  // ---------- D
  const labelColor: any = { b: "#2f7ab8", g: "#6fbe35", o: "#fba14a" };
  const d = add(box(51.7, 230, 235, 393.3, { show: true, borderWidth: 0, backgroundColor: "#e2e2e4" }),
    {
      type: "category", data: clusters.map((n, i) => ({ value: n, textStyle: { color: labelColor[clusterGroup[i]] } })),
      axisLine: { show: false }, axisTick: { show: false },
      axisLabel: { rotate: 90, fontSize: 9.5, fontFamily: FF, margin: 3, interval: 0 },
    },
    tickAxis(0, 100, [0, 25, 50, 75, 100], 9, { axisLine: { show: false }, axisLabel: { show: true, customValues: [0, 25, 50, 75, 100], rotate: 90, fontSize: 9, color: GREY, fontFamily: FF, margin: 4 } }));
  ([[pctOrange, ORANGE], [pctGreen, GREEN], [pctBlue, BLUE]] as any[]).forEach(([vals, col]) =>
    series.push({ type: "bar", stack: "d", xAxisIndex: d, yAxisIndex: d, data: vals, barWidth: 12.6, itemStyle: { color: col }, silent: true }));
  R(51.7, 223.3, 97.5, 5.7, "#1f5f97");
  R(149.2, 223.3, 43, 5.7, "#74bb46");
  R(192.3, 223.3, 42.7, 5.7, "#f9a552");
  T("Clusters", 140, 417, 11, { color: "#222" });
  T("Percentage (%)", 27, 310, 11.5, { rot: Math.PI / 2, color: "#333" });

  // ---------- E
  const e = add(box(285, 228.3, 455, 381.7),
    tickAxis(0.366, 3.6, [1, 2, 3], 9.3, {
      axisLine: { show: false }, axisTick: { show: false },
      axisLabel: { show: true, customValues: [1, 2, 3], fontSize: 9.3, color: "#333", fontFamily: FF, margin: 7, formatter: (v: number) => igkcGroups[v - 1] },
    }),
    tickAxis(-0.12, 1.354, [0, 0.4, 0.8, 1.2], 9.5, {
      axisLine: { show: false }, axisTick: { show: false },
      axisLabel: { show: true, customValues: [0, 0.4, 0.8, 1.2], fontSize: 9.5, color: "#333", fontFamily: FF, margin: 2, formatter: (v: number) => v.toFixed(1) },
    }));
  igkcGrid.forEach((v) => line(e, [[0.366, v], [3.6, v]], "#ececec", 1.5, { z: 1 }));
  [1, 2, 3].forEach((p) => line(e, [[p, -0.12], [p, 1.354]], "#ececec", 1.5, { z: 1 }));
  violin(e, 1, igkcND, "none", "#6fb944", 1.2);
  violin(e, 2, igkcRR, "none", "#f5a55c", 1.2);
  violin(e, 3, igkcDL, "none", "#1f639e", 1.2);
  line(e, [[0.366, igkcThreshold], [3.6, igkcThreshold]], "#111", 1.2, { type: [1.5, 3], z: 4 });
  T("{i|IGKC} fraction", 261.7, 308, 10.5, { rot: Math.PI / 2, color: "#333", rich: { i: { fontStyle: "italic", fontSize: 10.5, fontFamily: FF, color: "#333" } } });
  T("Groups", 370, 406, 10.5, { color: "#333" });

  // ---------- F (axes span the page, so coordinates read as page positions)
  const f = add(box(0, 0, 763, 994), hid(0, 763), hid(0, 994, { inverse: true }));
  trajThin.forEach((p) => line(f, p, "#222", 0.8));
  line(f, trajRoot, grad(1, 0, ["#10304f", "#1d4e7e", "#3a78ac"]), 5, { smooth: 0.3 });
  line(f, trajUp, grad(0, 0, ["#3f88c4", "#2c6ca5"]), 4.2, { smooth: 0.3 });
  line(f, trajRight, "#4d9fe0", 4.2, { smooth: 0.3 });
  line(f, trajDown, "#4d9ddc", 4, { smooth: 0.3 });
  g.push({ type: "bezierCurve", z: 45, shape: { x1: 525, y1: 304, cpx1: 545, cpy1: 310, cpx2: 562, cpy2: 298, x2: 578, y2: 289 }, style: { stroke: "#231815", lineWidth: 1.6, fill: "none" } });
  g.push({ type: "polygon", z: 45, shape: { points: [[584, 286], [570, 286], [576, 296]] }, style: { fill: "#231815" } });
  g.push({ type: "bezierCurve", z: 45, shape: { x1: 510, y1: 325, cpx1: 530, cpy1: 318, cpx2: 548, cpy2: 322, x2: 561, y2: 331 }, style: { stroke: "#231815", lineWidth: 1.6, fill: "none" } });
  g.push({ type: "polygon", z: 45, shape: { points: [[567, 336], [554, 335], [561, 325]] }, style: { fill: "#231815" } });
  T("Pseudotime", 543, 233, 9.5, { color: "#222" });
  R(519, 238.3, 45.3, 11.7, grad(1, 0, ["#132c4a", "#56b1f7"]));
  [["0", 519.3], ["5", 530], ["10", 541.5], ["15", 552], ["20", 565]].forEach(([s, x]: any) => T(s, x, 256, 9, { color: "#222" }));
  ndThin.forEach((p) => line(f, p, "#222", 0.8));
  ndThick.forEach((p) => line(f, p, "#6fbe35", 3.6, { smooth: 0.2 }));
  rrThin.forEach((p) => line(f, p, "#222", 0.8));
  rrThick.forEach((p) => line(f, p, "#fb9f3c", 3.6, { smooth: 0.2 }));
  dlThin.forEach((p) => line(f, p, "#222", 0.8));
  dlThick.forEach((p) => line(f, p, "#0a5a9a", 3.6, { smooth: 0.2 }));
  T("ND", 678, 222.7, 10.5, { color: "#222" });
  T("RR", 678, 291.7, 10.5, { color: "#222" });
  T("DLBCL", 678, 349, 10.5, { color: "#222" });

  // ---------- G density
  const den = add(box(38.3, 436, 244.3, 615.7, { show: true, borderWidth: 0, backgroundColor: "#ebebeb" }),
    tickAxis(-0.96, 20.06, [0, 5, 10, 15], 8, { axisLine: { show: false }, axisLabel: { show: false } }),
    tickAxis(-0.0245, 0.5068, [0, 0.1, 0.2, 0.3, 0.4, 0.5], 10, {
      axisLine: { show: false },
      axisLabel: { show: true, customValues: [0, 0.1, 0.2, 0.3, 0.4, 0.5], fontSize: 10, color: GREY, fontFamily: FF, margin: 3, formatter: (v: number) => v.toFixed(1) },
    }));
  densGridY.forEach((v, i) => line(den, [[-0.96, v], [20.06, v]], "#fff", i % 2 ? 1 : 0.5, { z: 1 }));
  line(den, [[-0.96, 0], [20.06, 0]], "#fff", 1, { z: 1 });
  densGridX.forEach((v, i) => line(den, [[v, -0.0245], [v, 0.5068]], "#fff", i % 2 ? 0.5 : 1, { z: 1 }));
  line(den, densBlue, "#2c6aa0", 1.1, { smooth: 0.4 });
  line(den, densGreen, "#6fb944", 1.1, { smooth: 0.4 });
  line(den, densOrange, "#f5a55c", 1.1, { smooth: 0.4 });
  line(den, [[0, 0], [19.1, 0]], "#e8a860", 1.2);
  T("Density", 12, 515, 11, { rot: Math.PI / 2, color: "#222" });

  // ---------- G heat map
  const heatIdx: number[] = [];
  ([[mod4, 620, 755.7], [mod3, 759, 829], [mod2, 832, 872.7], [mod1, 875.3, 939.3]] as any[]).forEach(([rowsStr, y0, y1]) => {
    const cols = Array.from({ length: 40 }, (_, i) => i);
    const names = rowsStr.map((_: string, i: number) => i);
    const h = add(box(37.3, y0, 239.3, y1),
      { type: "category", data: cols, show: false },
      { type: "category", data: names, show: false, inverse: true });
    heatIdx.push(series.length);
    series.push({
      type: "heatmap", xAxisIndex: h, yAxisIndex: h, silent: true, progressive: 0,
      data: rowsStr.flatMap((s: string, r: number) => cols.map((k) => [k, r, Number(s[k] ?? s[s.length - 1])])),
      itemStyle: { borderWidth: 0 },
    });
  });
  add(box(37.3, 875.3, 239.3, 939.3),
    tickAxis(-0.84, 21.1, pseudoTicks, 10, { axisLine: { show: false } }),
    hid(0, 1));
  T("Pseudotime", 134.7, 961, 11, { color: "#222" });
  T("Normalized expression", 186, 980, 11, { align: "right", color: "#222" });
  R(189, 976.7, 40.3, 6.3, grad(1, 0, jet));
  [["\u22123", 191.7], ["0", 209.3], ["3", 227.3]].forEach(([s, x]: any) => T(s, x, 989.5, 9.5, { color: "#222" }));
  ([["module-4", 689], ["module-3", 791.7], ["module-2", 850.7], ["module-1", 905]] as any[]).forEach(([s, y]) =>
    T(s, 25.7, y, 10.8, { rot: Math.PI / 2, color: "#222" }));

  // ---------- H
  const lg = Math.log10;
  const gene = (name: string, rect: number[], t0: number, tk: number, y10: number, y1: number, y01: number, bands: number[][], dots: number[][], curve: number[][], titleX: number, titleY: number, xSize: number) => {
    const [x0, y0, x1, yb] = rect;
    const dec = (y01 - y10) / 2;
    const xmin = (x0 - t0) / tk, xmax = (x1 - t0) / tk;
    const ymax = (y1 - y0) / dec, ymin = (y1 - yb) / dec;
    const i = add(box(x0, y0, x1, yb),
      tickAxis(xmin, xmax, [0, 5, 10, 15, 20], xSize, {
        axisLine: { show: true, onZero: false, lineStyle: { color: "#444", width: 1.3 } },
        axisLabel: { show: true, customValues: [0, 5, 10, 15, 20], fontSize: xSize, color: GREY, fontFamily: FF, margin: 1 },
      }),
      tickAxis(ymin, ymax, [-1, 0, 1], 9.5, {
        axisLine: { show: true, onZero: false, lineStyle: { color: "#444", width: 1.3 } },
        axisLabel: { show: true, customValues: [-1, 0, 1], fontSize: 9.5, color: GREY, fontFamily: FF, margin: 2, formatter: (v: number) => (v === 1 ? "10.0" : v === 0 ? "1.0" : "0.1") },
      }));
    bands.forEach(([ex, a0, a1, st, dense]) =>
      line(i, [[a0, lg(ex)], [a1, lg(ex)]], stateColors[st], dense ? 3 : 2, { type: dense ? "solid" : [1, 1.8], cap: "round" }));
    [1, 2, 3, 4, 5].forEach((st) => {
      const sel = dots.filter((q) => q[2] === st).map(([tt, ex]) => [tt, lg(ex)]);
      if (sel.length) pts(i, sel, stateColors[st], 1.8);
    });
    line(i, curve, "#000", 1.8, { smooth: 0.3, z: 6 });
    T(name, titleX, titleY, 11, { weight: "bold", fstyle: "italic", color: "#111" });
  };
  gene("MYC", [322.3, 445, 438.5, 572.7], 327.7, 5.5, 447.7, 506.7, 565, mycBands, mycDots, mycCurve, 367.3, 439, 8.5);
  gene("TCL1A", [471, 448, 586, 572.7], 475, 5.5, 452.7, 510, 566.7, tclBands, tclDots, tclCurve, 522, 439, 8.5);
  gene("VPREB3", [625.7, 449, 742, 573.3], 631, 5.5, 452.7, 510, 565.7, vprBands, vprDots, vprCurve, 689, 439, 8.5);
  gene("STMN1", [323.3, 600, 440, 727.7], 328.3, 5.53, 601.7, 660, 718.3, stmBands, stmDots, stmCurve, 374, 595.7, 10);
  gene("CD24", [471, 598, 587, 727.3], 475, 5.58, 600, 659, 717.3, cd24Bands, cd24Dots, cd24Curve, 520.7, 595.7, 10);
  gene("PCNA", [624.3, 600, 742, 727.7], 630, 5.55, 601.7, 661, 720, pcnaBands, pcnaDots, pcnaCurve, 682, 595.7, 10);
  T("Expression", 299.3, 499, 11.5, { rot: Math.PI / 2, color: "#222" });
  T("Expression", 299.3, 652.3, 11.5, { rot: Math.PI / 2, color: "#222" });
  [387, 537, 690].forEach((x) => T("Pseudotime", x, 747, 11, { color: "#333" }));
  T("State", 313, 766, 11, { align: "left", color: "#222" });
  [[351.7, 361.7], [372, 381.7], [393, 404.3], [415, 424.3], [435, 445]].forEach(([cx, tx], k) => {
    C(cx, 767, 2.8, stateColors[k + 1]);
    T(String(k + 1), tx, 766, 10, { color: "#222" });
  });

  // ---------- I
  const ii = add(box(302.7, 808.3, 401.7, 944.3, { show: true, borderColor: "#777", borderWidth: 1 }),
    tickAxis(-0.607, 1.593, [0, 1], 9.5, {
      axisLine: { show: false }, axisTick: { show: false },
      axisLabel: { show: true, customValues: [0, 1], fontSize: 9.5, color: "#808080", fontFamily: FF, margin: 2, formatter: (v: number) => (v === 0 ? "ND" : "RR") },
    }),
    tickAxis(0.04, 4.37, [1, 2, 3, 4], 9.5, { axisLine: { show: false } }));
  violin(ii, 0, cmycND, "#3e6ea8", "#333", 0.7);
  violin(ii, 1, cmycRR, "#c9504a", "#333", 0.7);
  line(ii, [[0, 0.24], [0, 3.17]], "#222", 0.7, { z: 4 });
  line(ii, [[1, 0.73], [1, 4.16]], "#222", 0.7, { z: 4 });
  ([[0, cmycBoxND], [1, cmycBoxRR]] as any[]).forEach(([pos, q]) => {
    series.push({
      type: "custom", xAxisIndex: ii, yAxisIndex: ii, data: [[pos, q[1]]], silent: true, z: 5,
      renderItem: (_p: any, api: any) => {
        const a0 = api.coord([pos - 0.145, q[2]]), a1 = api.coord([pos + 0.145, q[0]]);
        const m = api.coord([pos, q[1]])[1];
        return {
          type: "group", children: [
            { type: "rect", shape: { x: a0[0], y: a0[1], width: a1[0] - a0[0], height: a1[1] - a0[1] }, style: { fill: "#fff", stroke: "#333", lineWidth: 0.8 } },
            { type: "line", shape: { x1: a0[0], y1: m, x2: a1[0], y2: m }, style: { stroke: "#222", lineWidth: 1.4 } },
          ],
        };
      },
    });
  });
  T("cMyc(B cells)", 354.3, 801, 11, { color: "#222" });
  T("{i|P} < 2.2e-16", 307, 816, 12.5, { align: "left", color: "#111", rich: { i: { fontStyle: "italic", fontSize: 12.5, fontFamily: FF, color: "#111" } } });
  T("Intensity", 282, 880, 10.5, { rot: Math.PI / 2, color: "#333" });

  // ---------- J
  const spotColors: any = { ".": "#d88a84", o: "#eeb4ae", w: "#f8e6e4", r: "#e8303a" };
  const tissue = (rowsStr: string[], x0: number, x1: number, y1: number, pal: any, size: number, second: boolean) => {
    const i = add(box(x0, 809.3, x1, y1, { show: true, borderWidth: 0, backgroundColor: "#000" }), hid(0, 45), hid(0, 45, { inverse: true }));
    const A = (k: number) => Number(spotNudgeA[k % spotNudgeA.length]) / 10;
    const B = (k: number) => Number(spotNudgeB[k % spotNudgeB.length]) / 10;
    Object.keys(pal).forEach((ch) => {
      const data: number[][] = [];
      rowsStr.forEach((s, r) => s.split("").forEach((k2, q) => {
        if (k2 === ch) {
          data.push([q + A(r + q * 3), r + B(q + r * 5)]);
          if (second && ch !== "r") data.push([q + 1.8 * B(r * 7 + q) - 0.4, r + 0.3 + 1.6 * A(q * 5 + r * 2)]);
        }
      }));
      pts(i, data, pal[ch], size);
    });
  };
  tissue(tissueRR, 429, 562.7, 943.3, spotColors, 1.5, true);
  tissue(tissueND, 566, 699.3, 942.7, { ".": "#7a78c0", o: "#a8a8e0" }, 1.5, false);
  T("RR01_02", 497, 802.7, 11.5, { color: "#333" });
  T("ND03_01", 636.7, 802.7, 11.5, { color: "#333" });
  R(717.7, 845, 14, 92.7, grad(0, 1, ["#c8141c", "#e88a88", "#ffffff", "#a0a0d0", "#00007a"]));
  [["3.9", 846], ["2.05", 891.7], ["0.2", 937.7]].forEach(([s, y]: any) => T(s, 732.7, y, 11, { align: "left", color: "#222" }));
  T("cMyc intensity", 709, 894, 11, { rot: Math.PI / 2, color: "#222" });

  return {
    animation: false,
    textStyle: { fontFamily: FF },
    grid: grids, xAxis: xs, yAxis: ys, series,
    graphic: { elements: g },
    visualMap: [
      { type: "continuous", show: false, seriesIndex: bIdx, dimension: 2, min: 20, max: 100, inRange: { color: ["#d9d3cf", "#f59a6c"] } },
      { type: "continuous", show: false, seriesIndex: heatIdx, dimension: 2, min: 0, max: 9, inRange: { color: jet } },
    ],
  };
}

export default function App() {
  const ref = useRef<HTMLDivElement>(null);
  useEffect(() => {
    document.body.style.margin = "0";
    const chart = echarts.init(ref.current!, undefined, { renderer: "svg" });
    chart.setOption(buildOption() as any);
    return () => chart.dispose();
  }, []);
  return <div ref={ref} style={{ width: 763, height: 994, background: "#fff" }} />;
}
